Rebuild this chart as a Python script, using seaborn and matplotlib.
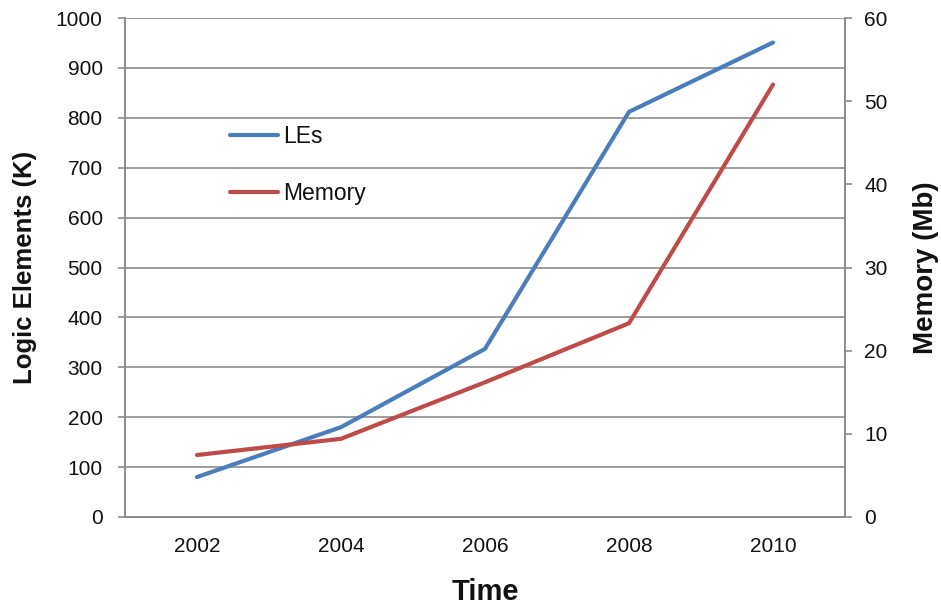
import matplotlib
matplotlib.use("Agg")
import matplotlib.pyplot as plt
import seaborn as sns
import pandas as pd

years = [2002, 2004, 2006, 2008, 2010]
logic_elements_k = [80, 180, 337, 812, 951]
memory_mb = [7.45, 9.4, 16.2, 23.3, 52.0]

le_color = "#4A7EBB"
mem_color = "#BE4B48"
grid_color = "#8C8C8C"
text_color = "#111111"

sns.set_theme(style="white")
plt.rcParams["font.family"] = ["Liberation Sans", "DejaVu Sans"]
plt.rcParams["text.color"] = text_color
plt.rcParams["axes.labelcolor"] = text_color
plt.rcParams["xtick.labelcolor"] = text_color
plt.rcParams["ytick.labelcolor"] = text_color

df = pd.DataFrame({"Year": years, "LEs": logic_elements_k, "Memory": memory_mb})

fig = plt.figure(figsize=(9.41, 6.07), dpi=100)
ax = fig.add_axes([0.1328, 0.1483, 0.7652, 0.822])
ax2 = ax.twinx()

sns.lineplot(data=df, x="Year", y="LEs", ax=ax, color=le_color, linewidth=3.0,
             label="LEs", legend=False, solid_capstyle="round")
sns.lineplot(data=df, x="Year", y="Memory", ax=ax2, color=mem_color, linewidth=3.0,
             label="Memory", legend=False, solid_capstyle="round")

# x axis: category labels centred, tick marks between categories
ax.set_xlim(2001, 2011)
ax.set_xticks([2001, 2003, 2005, 2007, 2009, 2011])
ax.set_xticklabels([])
ax.set_xticks(years, minor=True)
ax.set_xticklabels([str(y) for y in years], minor=True, fontsize=15)
ax.tick_params(axis="x", which="minor", length=0, pad=14.5)
ax.tick_params(axis="x", which="major", length=5, width=1.2, color=grid_color,
               direction="out")

ax.set_ylim(0, 1000)
ax.set_yticks(range(0, 1001, 100))
ax.tick_params(axis="y", labelsize=15, length=5, width=1.2, color=grid_color,
               direction="out", pad=11)
ax2.set_ylim(0, 60)
ax2.set_yticks(range(0, 61, 10))
ax2.tick_params(axis="y", labelsize=15, length=5, width=1.2, color=grid_color,
                direction="out", pad=9)

ax.yaxis.grid(True, color=grid_color, linewidth=1.2)
ax.xaxis.grid(False)
ax2.grid(False)
ax.set_axisbelow(True)

for a in (ax, ax2):
    a.spines["top"].set_visible(False)
    for s in ("left", "right", "bottom"):
        a.spines[s].set_color(grid_color)
        a.spines[s].set_linewidth(1.2)

ax.set_xlabel("Time", fontsize=21, fontweight="bold")
ax.set_ylabel("Logic Elements (K)", fontsize=18.5, fontweight="bold")
ax2.set_ylabel("Memory (Mb)", fontsize=20, fontweight="bold")
ax.xaxis.set_label_coords(0.5, -0.150)
ax.xaxis.label.set_verticalalignment("center")
ax.yaxis.set_label_coords(-0.139, 0.5)
ax.yaxis.label.set_verticalalignment("center")
ax2.yaxis.set_label_coords(1.1125, 0.5)
ax2.yaxis.label.set_verticalalignment("center")

h1, l1 = ax.get_legend_handles_labels()
h2, l2 = ax2.get_legend_handles_labels()
ax2.legend(h1 + h2, l1 + l2, loc="upper left", bbox_to_anchor=(0.146, 0.785),
           frameon=False, fontsize=16.5, handlelength=2.1, handletextpad=0.22,
           labelspacing=1.48, borderpad=0, borderaxespad=0)

fig.savefig("out.png", dpi=100)
